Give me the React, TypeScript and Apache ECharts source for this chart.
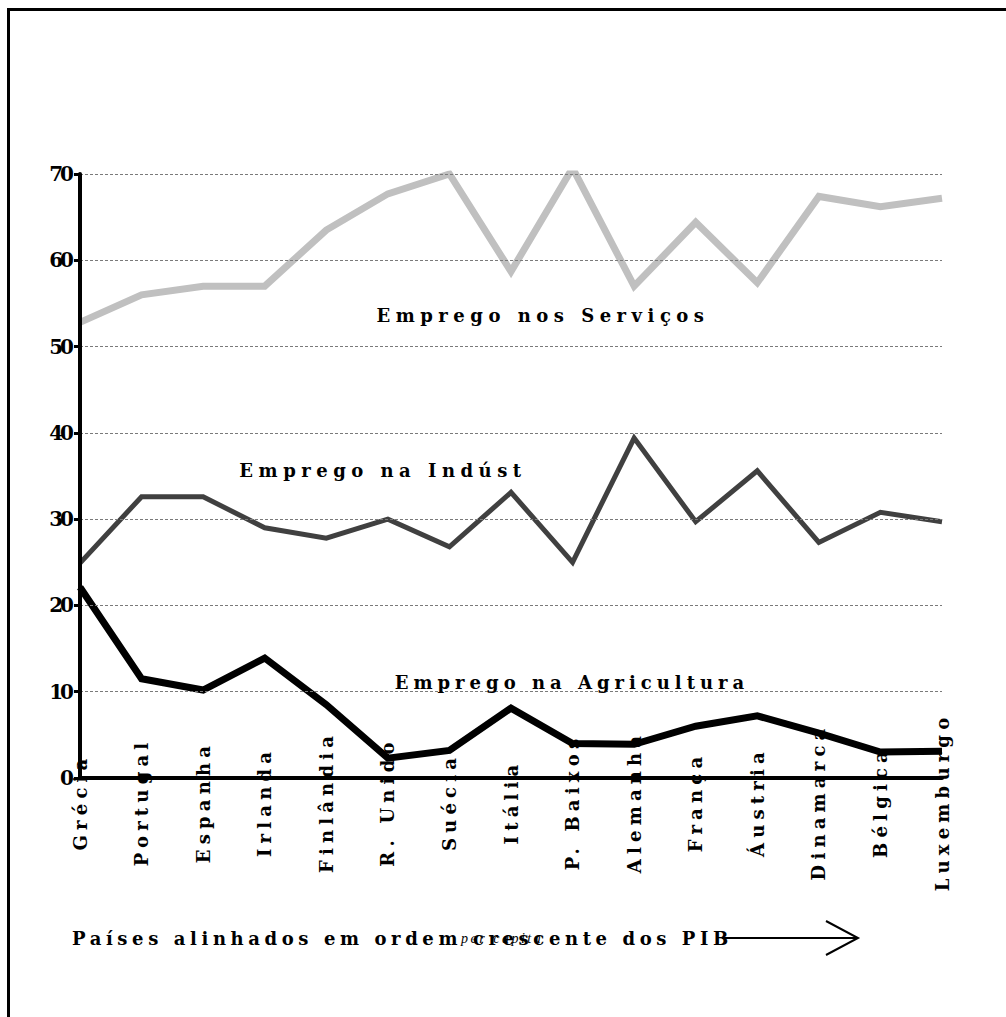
import React, { useEffect, useRef } from "react";
import * as echarts from "echarts";

const countries = [
  "Grécia",
  "Portugal",
  "Espanha",
  "Irlanda",
  "Finlândia",
  "R. Unido",
  "Suécia",
  "Itália",
  "P. Baixos",
  "Alemanha",
  "França",
  "Áustria",
  "Dinamarca",
  "Bélgica",
  "Luxemburgo",
];
const servicos = [52.8, 56.0, 57.0, 57.0, 63.5, 67.7, 70.0, 58.7, 70.7, 57.0, 64.4, 57.4, 67.4, 66.2, 67.2];
const industria = [24.9, 32.6, 32.6, 29.0, 27.8, 30.0, 26.8, 33.1, 25.0, 39.4, 29.7, 35.6, 27.3, 30.8, 29.7];
const agricultura = [22.1, 11.5, 10.2, 13.9, 8.5, 2.3, 3.2, 8.1, 4.0, 3.9, 6.0, 7.2, 5.2, 3.0, 3.1];
const yMin = 0;
const yMax = 70;
const yStep = 10;

const labelServicos = "Emprego nos Serviços";
const labelIndustria = "Emprego na Indúst";
const labelAgricultura = "Emprego na Agricultura";
const captionText = "Países alinhados em ordem crescente dos PIB";
const captionItalic = "per capita";

const SERIF = "DejaVu Serif";
const spaced = (px: number) => `${SERIF};letter-spacing:${px}px`;

export default function App() {
  const ref = useRef<HTMLDivElement>(null);

  useEffect(() => {
    if (!ref.current) return;
    const chart = echarts.init(ref.current, null, { renderer: "svg" });

    const annotation = (text: string, x: number, y: number, sp: number) => ({
      type: "text",
      x,
      y,
      z: 20,
      style: {
        text,
        textAlign: "center",
        textVerticalAlign: "middle",
        fontSize: 18,
        fontWeight: "bold",
        fontFamily: spaced(sp),
        fill: "#000",
      },
    });

    const captionY = 938;

    chart.setOption({
      animation: false,
      backgroundColor: "#fff",
      grid: { left: 80, right: 64, top: 174, bottom: 239, containLabel: false },
      xAxis: {
        type: "category",
        data: countries,
        boundaryGap: false,
        axisLine: { show: true, onZero: true, lineStyle: { color: "#000", width: 4 } },
        axisTick: { show: false },
        splitLine: { show: false },
        axisLabel: {
          interval: 0,
          rotate: 90,
          align: "center",
          verticalAlign: "middle",
          margin: 24,
          color: "#000",
          fontSize: 18,
          fontWeight: "bold",
          fontFamily: spaced(5.2),
        },
        z: 5,
      },
      yAxis: {
        type: "value",
        min: yMin,
        max: yMax,
        interval: yStep,
        axisLine: { show: true, lineStyle: { color: "#000", width: 4 } },
        axisTick: { show: true, length: 6, lineStyle: { color: "#000", width: 3 } },
        axisLabel: {
          margin: 9,
          color: "#000",
          fontSize: 20,
          fontWeight: "bold",
          fontFamily: spaced(-3),
        },
        splitLine: {
          show: true,
          lineStyle: { color: "#7a7a7a", width: 1, type: [3, 2] },
        },
        z: 5,
      },
      series: [
        {
          name: labelServicos,
          type: "line",
          data: servicos,
          symbol: "none",
          showSymbol: false,
          lineStyle: { color: "#c0c0c0", width: 7, join: "miter", cap: "butt" },
          z: 2,
        },
        {
          name: labelIndustria,
          type: "line",
          data: industria,
          symbol: "none",
          showSymbol: false,
          lineStyle: { color: "#404040", width: 5, join: "miter", cap: "butt" },
          z: 3,
        },
        {
          name: labelAgricultura,
          type: "line",
          data: agricultura,
          symbol: "none",
          showSymbol: false,
          lineStyle: { color: "#000000", width: 7, join: "miter", cap: "butt" },
          z: 4,
        },
      ],
      graphic: [
        {
          type: "line",
          shape: { x1: 8.5, y1: 8, x2: 8.5, y2: 1017 },
          style: { stroke: "#000", lineWidth: 3 },
        },
        {
          type: "line",
          shape: { x1: 7, y1: 9.5, x2: 1006, y2: 9.5 },
          style: { stroke: "#000", lineWidth: 3 },
        },
        annotation(labelServicos, 543, 315, 5.5),
        annotation(labelIndustria, 383, 470, 5.5),
        annotation(labelAgricultura, 572, 682, 5),
        {
          type: "text",
          x: 72,
          y: captionY,
          z: 20,
          style: {
            text: captionText,
            textAlign: "left",
            textVerticalAlign: "middle",
            fontSize: 18,
            fontWeight: "bold",
            fontFamily: spaced(4.6),
            fill: "#000",
          },
        },
        {
          type: "text",
          x: 461,
          y: captionY,
          z: 21,
          style: {
            text: captionItalic,
            textAlign: "left",
            textVerticalAlign: "middle",
            fontSize: 14,
            fontStyle: "italic",
            fontFamily: "Liberation Serif;letter-spacing:2.5px",
            fill: "#000",
          },
        },
        {
          type: "line",
          z: 22,
          shape: { x1: 722, y1: captionY, x2: 858, y2: captionY },
          style: { stroke: "#000", lineWidth: 2 },
        },
        {
          type: "polyline",
          z: 22,
          shape: {
            points: [
              [826, captionY - 17],
              [858, captionY],
              [826, captionY + 17],
            ],
          },
          style: { stroke: "#000", lineWidth: 2, fill: "none" },
        },
      ],
    });

    return () => chart.dispose();
  }, []);

  return (
    <div
      ref={ref}
      style={{ position: "absolute", left: 0, top: 0, width: 1006, height: 1017, background: "#fff" }}
    />
  );
}
